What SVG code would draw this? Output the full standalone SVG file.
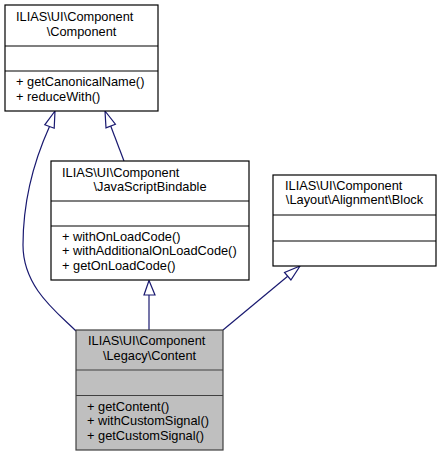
<svg xmlns="http://www.w3.org/2000/svg" width="443" height="456" viewBox="0 0 443 456">
<style>
.box{fill:#ffffff;stroke:#000000;stroke-width:1.2}
.hl{fill:#bfbfbf;stroke:#404040;stroke-width:1.2}
.div{stroke:#000000;stroke-width:1.2}
.divh{stroke:#404040;stroke-width:1.2}
text{font-family:"Liberation Sans",Arial,Helvetica,sans-serif;font-size:12.8px;fill:#000000}
.c{text-anchor:middle}
.edge{fill:none;stroke:#191970;stroke-width:1.2}
.head{fill:#ffffff;stroke:#191970;stroke-width:1.2}
</style>
<rect width="443" height="456" fill="#ffffff"/>
<g id="edges">
<path class="edge" d="M76,331 C58,313 23,288 23,245 C23,195 38,152 49.5,126.5"/>
<polygon class="head" points="55,111 44.8,124.8 54.2,128.2"/>
<path class="edge" d="M124,161 L110.7,126"/>
<polygon class="head" points="105,111 115.4,124.2 106,127.8"/>
<path class="edge" d="M149,330 L149,295"/>
<polygon class="head" points="149,280.5 144,295 155,295"/>
<path class="edge" d="M223,330 L287.7,276.2"/>
<polygon class="head" points="300,266 284.5,272.4 290.9,280"/>
</g>
<g id="node-component">
<rect class="box" x="5" y="5" width="153" height="106"/>
<line class="div" x1="5" y1="46" x2="158" y2="46"/>
<line class="div" x1="5" y1="71" x2="158" y2="71"/>
<text x="16" y="21">ILIAS\UI\Component</text>
<text class="c" x="81.5" y="36">\Component</text>
<text x="16" y="86">+ getCanonicalName()</text>
<text x="16" y="101">+ reduceWith()</text>
</g>
<g id="node-jsb">
<rect class="box" x="51" y="161" width="198" height="119"/>
<line class="div" x1="51" y1="201" x2="249" y2="201"/>
<line class="div" x1="51" y1="226" x2="249" y2="226"/>
<text x="62" y="176.5">ILIAS\UI\Component</text>
<text class="c" x="150" y="191">\JavaScriptBindable</text>
<text x="62" y="241">+ withOnLoadCode()</text>
<text x="62" y="255.3">+ withAdditionalOnLoadCode()</text>
<text x="62" y="269.6">+ getOnLoadCode()</text>
</g>
<g id="node-block">
<rect class="box" x="273" y="175" width="163" height="91"/>
<line class="div" x1="273" y1="215" x2="436" y2="215"/>
<line class="div" x1="273" y1="241" x2="436" y2="241"/>
<text x="285" y="189.5">ILIAS\UI\Component</text>
<text class="c" x="354.5" y="204.3">\Layout\Alignment\Block</text>
</g>
<g id="node-content">
<rect class="hl" x="76" y="330" width="147" height="120"/>
<line class="divh" x1="76" y1="370" x2="223" y2="370"/>
<line class="divh" x1="76" y1="395.5" x2="223" y2="395.5"/>
<text x="88" y="344.5">ILIAS\UI\Component</text>
<text class="c" x="149.5" y="360">\Legacy\Content</text>
<text x="87" y="410.5">+ getContent()</text>
<text x="87" y="425.3">+ withCustomSignal()</text>
<text x="87" y="440">+ getCustomSignal()</text>
</g>
</svg>
